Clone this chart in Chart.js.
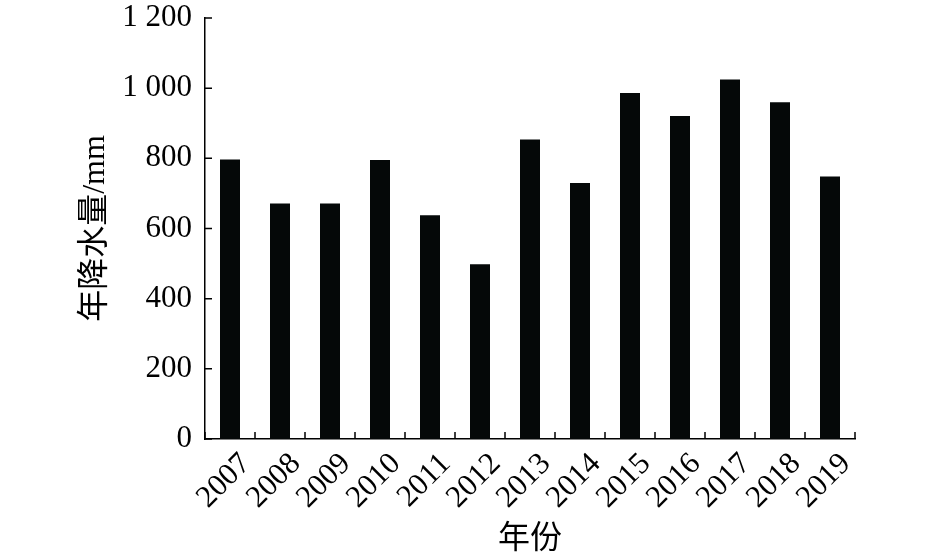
<!DOCTYPE html>
<html lang="zh">
<head>
    <meta charset="UTF-8">
    <title>年降水量</title>
    <script src="https://cdn.jsdelivr.net/npm/chart.js"></script>
    <style>
        body {
            margin: 0;
            padding: 0;
            background: #fff;
        }
        .chart-box {
            width: 946px;
            height: 559px;
            position: relative;
        }
    </style>
</head>
<body>
    <div class="chart-box">
        <canvas id="rainChart"></canvas>
    </div>
    <script>
        const years = ['2007', '2008', '2009', '2010', '2011', '2012', '2013',
                       '2014', '2015', '2016', '2017', '2018', '2019'];
        const rainfall = [797, 671, 671, 795, 638, 498, 854, 730, 986, 921, 1025, 960, 748];
        const yTicks = [0, 200, 400, 600, 800, 1000, 1200];

        const fontFamily = "'Liberation Serif', 'Times New Roman', 'Noto Sans CJK SC', serif";

        // ticks drawn on the inside of the axes
        const innerTicks = {
            id: 'innerTicks',
            afterDraw(chart) {
                const ctx = chart.ctx;
                const x = chart.scales.x;
                const y = chart.scales.y;
                ctx.save();
                ctx.strokeStyle = '#000';
                ctx.lineWidth = 1.5;
                ctx.beginPath();
                yTicks.forEach(v => {
                    const py = y.getPixelForValue(v);
                    ctx.moveTo(x.left, py);
                    ctx.lineTo(x.left + 7, py);
                });
                for (let i = 0; i <= years.length; i++) {
                    const px = x.getPixelForValue(i - 0.5);
                    ctx.moveTo(px, y.bottom);
                    ctx.lineTo(px, y.bottom - 7);
                }
                ctx.stroke();
                ctx.restore();
            }
        };

        new Chart(document.getElementById('rainChart'), {
            type: 'bar',
            data: {
                labels: years,
                datasets: [{
                    data: rainfall,
                    backgroundColor: '#050808',
                    borderWidth: 0,
                    barPercentage: 0.4,
                    categoryPercentage: 1.0
                }]
            },
            options: {
                responsive: true,
                maintainAspectRatio: false,
                animation: false,
                layout: {
                    padding: { left: 72, right: 91, top: 18, bottom: 0 }
                },
                plugins: {
                    legend: { display: false },
                    tooltip: { enabled: false }
                },
                scales: {
                    x: {
                        grid: { display: false, drawTicks: false },
                        border: { color: '#000', width: 1.5 },
                        ticks: {
                            color: '#000',
                            font: { family: fontFamily, size: 31 },
                            autoSkip: false,
                            minRotation: 45,
                            maxRotation: 45,
                            labelOffset: 16,
                            padding: 7
                        },
                        title: {
                            display: true,
                            text: '年份',
                            color: '#000',
                            font: { family: fontFamily, size: 32 },
                            padding: { top: 0, bottom: 0 }
                        },
                        afterFit(scale) {
                            scale.height = 120;
                            scale.paddingLeft = 0;
                            scale.paddingRight = 0;
                        }
                    },
                    y: {
                        min: 0,
                        max: 1200,
                        grid: { display: false, drawTicks: false },
                        border: { color: '#000', width: 1.5 },
                        afterBuildTicks(scale) {
                            scale.ticks = yTicks.map(v => ({ value: v }));
                        },
                        ticks: {
                            color: '#000',
                            font: { family: fontFamily, size: 31 },
                            padding: 13,
                            callback: v => String(v).replace(/\B(?=(\d{3})+$)/g, ' ')
                        },
                        title: {
                            display: true,
                            text: '年降水量/mm',
                            color: '#000',
                            font: { family: fontFamily, size: 32 },
                            padding: { top: 4, bottom: 4 }
                        },
                        afterFit(scale) {
                            scale.width = 133;
                            scale.paddingTop = 0;
                            scale.paddingBottom = 0;
                        }
                    }
                }
            },
            plugins: [innerTicks]
        });
    </script>
</body>
</html>
